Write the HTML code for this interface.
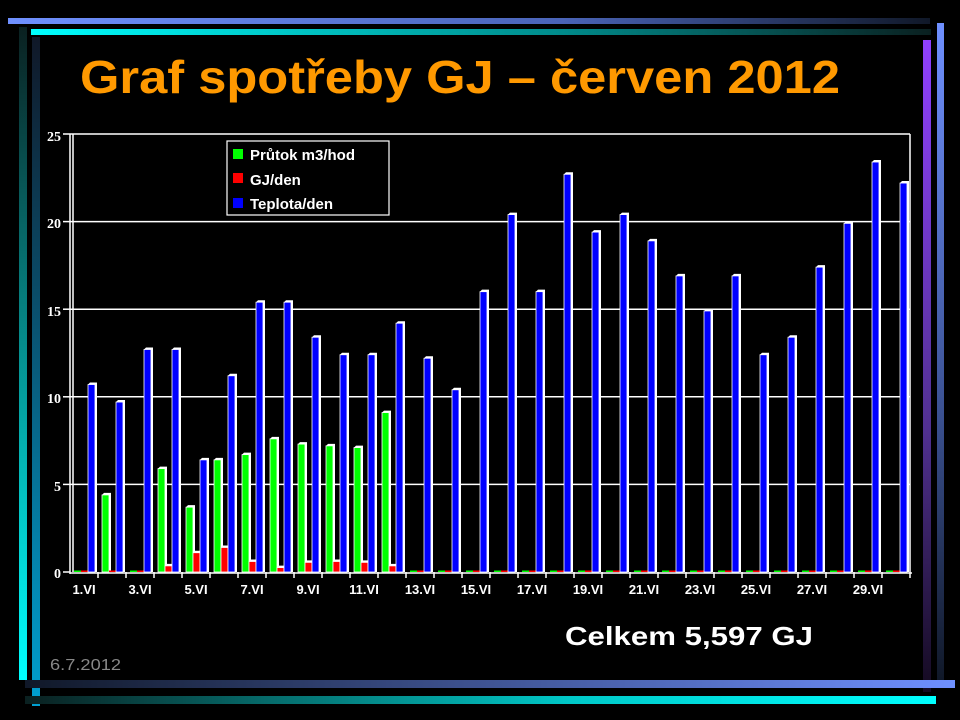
<!DOCTYPE html>
<html><head><meta charset="utf-8"><style>
html,body{margin:0;padding:0;background:#000;width:960px;height:720px;overflow:hidden}
</style></head><body>
<svg width="960" height="720" xmlns="http://www.w3.org/2000/svg">
<defs>
<linearGradient id="gTop" x1="0" x2="1" y1="0" y2="0"><stop offset="0" stop-color="#6f90ff"/><stop offset="0.6" stop-color="#4a64b8"/><stop offset="1" stop-color="#101828"/></linearGradient>
<linearGradient id="gCy" x1="0" x2="1" y1="0" y2="0"><stop offset="0" stop-color="#00ffff"/><stop offset="0.6" stop-color="#008888"/><stop offset="1" stop-color="#0a2020"/></linearGradient>
<linearGradient id="gBotB" x1="0" x2="1" y1="0" y2="0"><stop offset="0" stop-color="#101828"/><stop offset="1" stop-color="#6f90ff"/></linearGradient>
<linearGradient id="gBotC" x1="0" x2="1" y1="0" y2="0"><stop offset="0" stop-color="#0a2020"/><stop offset="0.6" stop-color="#00c8c8"/><stop offset="1" stop-color="#00ffff"/></linearGradient>
<linearGradient id="gL1" x1="0" x2="0" y1="0" y2="1"><stop offset="0" stop-color="#0a2020"/><stop offset="1" stop-color="#00ffff"/></linearGradient>
<linearGradient id="gL2" x1="0" x2="0" y1="0" y2="1"><stop offset="0" stop-color="#101828"/><stop offset="1" stop-color="#00a0d0"/></linearGradient>
<linearGradient id="gR1" x1="0" x2="0" y1="0" y2="1"><stop offset="0" stop-color="#9040ff"/><stop offset="0.6" stop-color="#503090"/><stop offset="1" stop-color="#140a20"/></linearGradient>
<linearGradient id="gR2" x1="0" x2="0" y1="0" y2="1"><stop offset="0" stop-color="#6f90ff"/><stop offset="0.6" stop-color="#3a5090"/><stop offset="1" stop-color="#101828"/></linearGradient>
</defs>
<rect x="8" y="18" width="922" height="6" fill="url(#gTop)"/>
<rect x="31" y="29" width="900" height="6" fill="url(#gCy)"/>
<rect x="19" y="27" width="8" height="653" fill="url(#gL1)"/>
<rect x="32" y="37" width="8" height="669" fill="url(#gL2)"/>
<rect x="923" y="40" width="8" height="652" fill="url(#gR1)"/>
<rect x="937" y="23" width="7" height="658" fill="url(#gR2)"/>
<rect x="25" y="680" width="930" height="8" fill="url(#gBotB)"/>
<rect x="25" y="696" width="911" height="8" fill="url(#gBotC)"/>

<text x="80" y="93" fill="#ff9900" font-family="Liberation Sans, sans-serif" font-weight="bold" font-size="46" textLength="760" lengthAdjust="spacingAndGlyphs">Graf spotřeby GJ – červen 2012</text>

<g id="grid" stroke="#fff" stroke-width="1.5">
<line x1="70" y1="134" x2="910" y2="134"/>
<line x1="70" y1="221.6" x2="910" y2="221.6"/>
<line x1="70" y1="309.2" x2="910" y2="309.2"/>
<line x1="70" y1="396.8" x2="910" y2="396.8"/>
<line x1="70" y1="484.4" x2="910" y2="484.4"/>
<line x1="910" y1="134" x2="910" y2="572"/>
<line x1="70" y1="134" x2="70" y2="574"/>
<line x1="73" y1="134" x2="73" y2="572"/>
<line x1="70" y1="573" x2="912" y2="573"/>
<line x1="63" y1="134" x2="70" y2="134"/><line x1="63" y1="221.6" x2="70" y2="221.6"/><line x1="63" y1="309.2" x2="70" y2="309.2"/><line x1="63" y1="396.8" x2="70" y2="396.8"/><line x1="63" y1="484.4" x2="70" y2="484.4"/><line x1="63" y1="572" x2="70" y2="572"/>
</g>
<g fill="#fff" font-family="Liberation Serif, serif" font-weight="bold" font-size="14" text-anchor="end">
<text x="61" y="141">25</text><text x="61" y="228">20</text><text x="61" y="316">15</text><text x="61" y="403">10</text><text x="61" y="491">5</text><text x="61" y="578">0</text>
</g>
<g id="bars"></g>
<g id="xl" fill="#fff" font-family="Liberation Sans, sans-serif" font-weight="bold" font-size="13" text-anchor="middle"></g>

<rect x="227" y="141" width="162" height="74" fill="#000" stroke="#fff" stroke-width="1.2"/>
<rect x="233" y="149" width="10" height="10" fill="#00ff00"/>
<rect x="233" y="173" width="10" height="10" fill="#ff0000"/>
<rect x="233" y="198" width="10" height="10" fill="#0000ff"/>
<g fill="#fff" font-family="Liberation Sans, sans-serif" font-weight="bold" font-size="15">
<text x="250" y="160">Průtok m3/hod</text><text x="250" y="185">GJ/den</text><text x="250" y="209">Teplota/den</text>
</g>

<text x="565" y="645" fill="#fff" font-family="Liberation Sans, sans-serif" font-weight="bold" font-size="26" textLength="248" lengthAdjust="spacingAndGlyphs">Celkem 5,597 GJ</text>
<text x="50" y="670" fill="#888" font-family="Liberation Sans, sans-serif" font-size="16" textLength="71" lengthAdjust="spacingAndGlyphs">6.7.2012</text>
</svg>
<script>
var blue=[10.7,9.7,12.7,12.7,6.4,11.2,15.4,15.4,13.4,12.4,12.4,14.2,12.2,10.4,16.0,20.4,16.0,22.7,19.4,20.4,18.9,16.9,14.9,16.9,12.4,13.4,17.4,19.9,23.4,22.2];
var green=[0,4.4,0,5.9,3.7,6.4,6.7,7.6,7.3,7.2,7.1,9.1,0,0,0,0,0,0,0,0,0,0,0,0,0,0,0,0,0,0];
var red=[0,0,0,0.35,1.1,1.4,0.6,0.25,0.55,0.6,0.55,0.35,0,0,0,0,0,0,0,0,0,0,0,0,0,0,0,0,0,0];
var ns="http://www.w3.org/2000/svg",g=document.getElementById("bars"),xl=document.getElementById("xl");
function el(t,a,p){var e=document.createElementNS(ns,t);for(var k in a)e.setAttribute(k,a[k]);(p||g).appendChild(e);return e;}
function bar(x,v,c){
 if(!v){el("rect",{x:x,y:570.5,width:7,height:1.5,fill:c});return;}
 var h=v*17.52,y=572-h;
 el("polygon",{points:(x)+","+y+" "+(x+2)+","+(y-2)+" "+(x+9)+","+(y-2)+" "+(x+9)+",572 "+(x+7)+",572 "+(x+7)+","+y,fill:"#fff"});
 el("rect",{x:x,y:y,width:7,height:h,fill:c,stroke:"#fff","stroke-width":0.8});}
for(var i=0;i<30;i++){var s=70+i*28;
 bar(s+4,green[i],"#00ff00");bar(s+11,red[i],"#ff0000");bar(s+18,blue[i],"#0000ff");
 el("line",{x1:s+28,y1:572,x2:s+28,y2:578,stroke:"#fff","stroke-width":1.5});
 if(i%2==0){var t=el("text",{x:s+14,y:594},xl);t.textContent=(i+1)+".VI";}}
</script>
</body></html>
